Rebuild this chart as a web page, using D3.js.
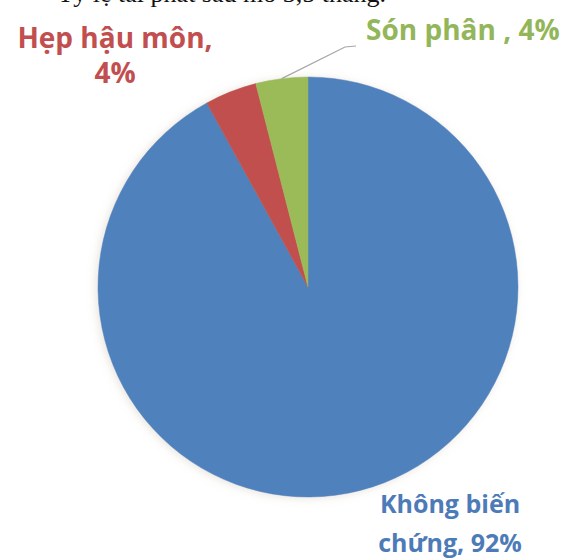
<!DOCTYPE html>
<html lang="vi">
<head>
<meta charset="utf-8">
<script src="https://cdn.jsdelivr.net/npm/d3@7"></script>
<style>
  html, body { margin: 0; padding: 0; background: #ffffff; }
  svg { display: block; }
</style>
</head>
<body>
<svg id="chart" width="569" height="560"></svg>
<script>
// Complications at 3.5 months after surgery
const categories = ["Không biến chứng", "Hẹp hậu môn", "Són phân"];
const values = [92, 4, 4];
const sliceColors = ["#4f81bd", "#c0504d", "#9bbb59"];
const labelColors = ["#4c7bb8", "#c24f4f", "#94b65a"];
const labelLines = [["Không biến", "chứng, 92%"], ["Hẹp hậu môn,", "4%"], ["Són phân , 4%"]];
const captionText = "Tỷ lệ tái phát sau mổ 3,5 tháng.";

const svg = d3.select("#chart");
const cx = 308, cy = 287, R = 210;

// soft outer shadow around the pie
const defs = svg.append("defs");
const f = defs.append("filter").attr("id", "pieShadow")
  .attr("x", "-20%").attr("y", "-20%").attr("width", "140%").attr("height", "140%");
f.append("feDropShadow").attr("dx", -2).attr("dy", 1).attr("stdDeviation", 4)
  .attr("flood-color", "#b0a590").attr("flood-opacity", 0.3);

// caption line running in from the page above (only its lower edge shows)
svg.append("text")
  .attr("x", 386).attr("y", 2)
  .attr("text-anchor", "end")
  .attr("font-family", "'Liberation Serif', 'DejaVu Serif', serif")
  .attr("font-size", 26)
  .attr("fill", "#111")
  .text(captionText);

const pie = d3.pie().sort(null).value(d => d)(values);
const arc = d3.arc().innerRadius(0).outerRadius(R);

const g = svg.append("g").attr("transform", `translate(${cx},${cy})`);
g.append("g").attr("filter", "url(#pieShadow)")
  .selectAll("path")
  .data(pie)
  .join("path")
  .attr("d", arc)
  .attr("fill", (d, i) => sliceColors[i])
  .attr("stroke", (d, i) => sliceColors[i])
  .attr("stroke-width", 0.5);

// leader line for the small green slice
const green = pie[2];
const mid = (green.startAngle + green.endAngle) / 2;
const p0 = [cx + R * Math.sin(mid), cy - R * Math.cos(mid)];
svg.append("polyline")
  .attr("points", [p0, [345, 47], [356, 46]].map(p => p.join(",")).join(" "))
  .attr("fill", "none")
  .attr("stroke", "#a6a6a6")
  .attr("stroke-width", 1.2);

// data labels
const labelFont = "'Open Sans', 'Noto Sans', sans-serif";
const labelPlacement = [
  { x: 450, y: 513, anchor: "middle", dy: 39, size: 25 },
  { x: 115, y: 48, anchor: "middle", dy: 35, size: 28 },
  { x: 366, y: 40, anchor: "start", dy: 0, size: 28 }
];
labelLines.forEach((lines, i) => {
  const p = labelPlacement[i];
  const t = svg.append("text")
    .attr("font-family", labelFont)
    .attr("font-weight", 700)
    .attr("font-size", p.size)
    .attr("fill", labelColors[i])
    .attr("text-anchor", p.anchor);
  lines.forEach((s, k) => {
    t.append("tspan").attr("x", p.x).attr("y", p.y + k * p.dy).text(s);
  });
});
</script>
</body>
</html>
